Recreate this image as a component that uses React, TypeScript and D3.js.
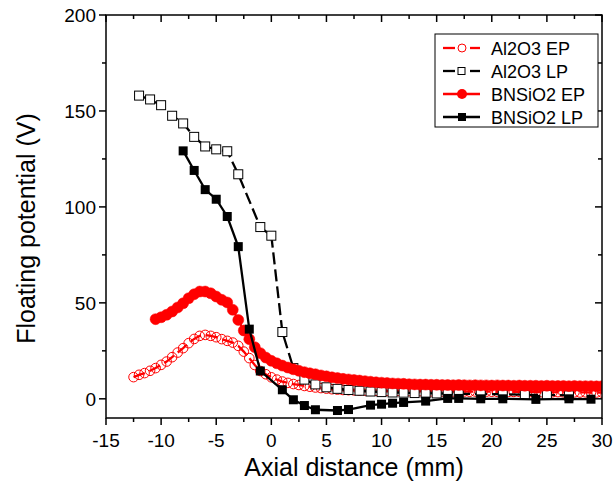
import React from 'react';
import * as d3 from 'd3';

const W = 613;
const H = 485;
const PLOT = { left: 106, right: 602, top: 15, bottom: 418 };

const xTickValues = [-15, -10, -5, 0, 5, 10, 15, 20, 25, 30];
const xMinorTicks = [-12.5, -7.5, -2.5, 2.5, 7.5, 12.5, 17.5, 22.5, 27.5];
const yTickValues = [0, 50, 100, 150, 200];
const yMinorTicks = [25, 75, 125, 175];

const seriesNames = ['Al2O3 EP', 'Al2O3 LP', 'BNSiO2 EP', 'BNSiO2 LP'];

// Al2O3 EP: sampled every 0.5 mm starting at -12.5 mm
const al2o3EPStart = -12.5;
const al2o3EPStep = 0.5;
const al2o3EP = [
  11.3, 12.5, 13.4, 14.6, 16.0, 17.7, 19.4, 21.7, 24.1, 26.4, 29.0, 31.2, 32.8, 33.3, 32.8, 32.1, 31.1, 30.2, 29.3, 27.6, 24.6, 21.2, 17.6, 14.5, 12.8, 11.2, 10.0,
  9.0, 8.3, 7.7, 7.2, 6.7, 6.3, 5.9, 5.6, 5.3, 5.0, 4.8, 4.6, 4.5, 4.4, 4.3,
  4.3, 4.2, 4.2, 4.1, 4.1, 4.0, 4.1, 4.0, 4.0, 3.9,
  4.0, 3.9, 3.9, 3.9, 3.8, 3.9, 3.8, 3.8, 3.8, 3.7,
  3.8, 3.7, 3.7, 3.7, 3.6, 3.7, 3.6, 3.6, 3.6, 3.5,
  3.6, 3.5, 3.5, 3.5, 3.4, 3.5, 3.4, 3.4, 3.4, 3.3,
  3.4, 3.3, 3.3, 3.3,
];

// BNSiO2 EP: sampled every 0.5 mm starting at -10.5 mm
const bnsio2EPStart = -10.5;
const bnsio2EPStep = 0.5;
const bnsio2EP = [
  41.5, 42.5, 43.8, 45.5, 47.6, 49.8, 52.4, 54.5, 55.9, 55.9, 55.0, 53.3, 51.6, 50.2, 46.4, 41.1, 35.6, 31.1, 26.9,
  23.8, 21.5, 19.8, 18.5, 17.3, 16.3, 15.4, 14.6, 13.9, 13.3, 12.8, 12.2, 11.7, 11.2, 10.8, 10.4, 10.1, 9.8, 9.5, 9.2, 8.9, 8.6, 8.4, 8.2, 8.0, 7.9, 7.8,
  7.6, 7.5, 7.4, 7.4, 7.3, 7.3, 7.2, 7.2, 7.1, 7.2,
  7.1, 7.0, 7.1, 7.0, 7.0, 6.9, 7.0, 6.9, 6.9, 6.8,
  6.9, 6.8, 6.8, 6.8, 6.7, 6.8, 6.7, 6.7, 6.7, 6.6,
  6.7, 6.6, 6.6, 6.6, 6.5, 6.6,
];

const al2o3LPx = [-12, -11, -10, -9, -8, -7, -6, -5, -4, -3, -1, 0, 1, 2, 3, 4, 5, 6, 7, 8, 9, 10, 11, 12, 13, 14, 15, 16, 17, 19, 21, 23, 25, 27];
const al2o3LPy = [158, 156, 153, 147.5, 143.5, 136.5, 131.5, 130, 129, 117, 89.5, 85, 34.8, 16, 10, 7.5, 6, 5.2, 4.6, 4.2, 3.8, 3.5, 3.3, 3.2, 3.0, 2.9, 2.8, 2.7, 2.6, 2.5, 2.4, 2.1, 2.0, 1.8];

const bnsio2LPx = [-8, -7, -6, -5, -4, -3, -2, -1, 1, 2, 3, 4, 6, 7, 9, 10, 11, 12, 14, 16, 17, 19, 21, 24, 27, 29];
const bnsio2LPy = [129.2, 119, 109, 104, 95, 79.3, 36.3, 14.5, 4.7, -0.5, -3.5, -5.7, -6.1, -5.6, -3.3, -2.8, -2.3, -1.9, -1.2, 0.2, 0.2, 0, 0, -0.3, 0, -0.2];

type Pt = [number, number];

const FONT = '"Liberation Sans", Arial, Helvetica, sans-serif';
const RED = '#ff0000';

export default function App() {
  const x = d3.scaleLinear().domain([-15, 30]).range([PLOT.left, PLOT.right]);
  const y = d3.scaleLinear().domain([-10, 200]).range([PLOT.bottom, PLOT.top]);
  const line = d3.line<Pt>().x((d) => x(d[0])).y((d) => y(d[1]));

  const al2o3EPPts: Pt[] = al2o3EP.map((v, i) => [al2o3EPStart + i * al2o3EPStep, v]);
  const bnsio2EPPts: Pt[] = bnsio2EP.map((v, i) => [bnsio2EPStart + i * bnsio2EPStep, v]);
  const al2o3LPPts: Pt[] = al2o3LPx.map((v, i) => [v, al2o3LPy[i]]);
  const bnsio2LPPts: Pt[] = bnsio2LPx.map((v, i) => [v, bnsio2LPy[i]]);

  const SQ = 9;
  const LW = 2.3;
  const legendX = 435;
  const legendY = 34;
  const rowY = (i: number) => legendY + 14 + i * 23;

  return (
    <svg width={W} height={H} style={{ position: 'absolute', left: 0, top: 0, background: '#fff' }} fontFamily={FONT}>
      <rect x={0} y={0} width={W} height={H} fill="#fff" />
      <defs>
        <clipPath id="plotclip">
          <rect x={PLOT.left} y={PLOT.top} width={PLOT.right - PLOT.left} height={PLOT.bottom - PLOT.top} />
        </clipPath>
      </defs>

      <g clipPath="url(#plotclip)">
        {/* Al2O3 EP */}
        <path d={line(al2o3EPPts) || ''} fill="none" stroke={RED} strokeWidth={LW} strokeDasharray="12,5" />
        {al2o3EPPts.map((d, i) => (
          <circle key={'a' + i} cx={x(d[0])} cy={y(d[1])} r={4.8} fill="none" stroke={RED} strokeWidth={1} />
        ))}
        {/* Al2O3 LP */}
        <path d={line(al2o3LPPts) || ''} fill="none" stroke="#000" strokeWidth={LW} strokeDasharray="12,5" />
        {al2o3LPPts.map((d, i) => (
          <rect key={'b' + i} x={x(d[0]) - SQ / 2} y={y(d[1]) - SQ / 2} width={SQ} height={SQ} fill="#fff" stroke="#000" strokeWidth={1} />
        ))}
        {/* BNSiO2 EP */}
        <path d={line(bnsio2EPPts) || ''} fill="none" stroke={RED} strokeWidth={LW} />
        {bnsio2EPPts.map((d, i) => (
          <circle key={'c' + i} cx={x(d[0])} cy={y(d[1])} r={5.5} fill={RED} stroke={RED} strokeWidth={0.5} />
        ))}
        {/* BNSiO2 LP */}
        <path d={line(bnsio2LPPts) || ''} fill="none" stroke="#000" strokeWidth={LW} />
        {bnsio2LPPts.map((d, i) => (
          <rect key={'d' + i} x={x(d[0]) - SQ / 2} y={y(d[1]) - SQ / 2} width={SQ} height={SQ} fill="#000" />
        ))}
      </g>

      {/* Frame */}
      <rect x={PLOT.left} y={PLOT.top} width={PLOT.right - PLOT.left} height={PLOT.bottom - PLOT.top} fill="none" stroke="#000" strokeWidth={1.5} />

      {/* X ticks bottom (outward) and top (inward) */}
      {xTickValues.map((t) => (
        <g key={'xt' + t}>
          <line x1={x(t)} x2={x(t)} y1={PLOT.bottom} y2={PLOT.bottom + 7} stroke="#000" strokeWidth={1.5} />
          <line x1={x(t)} x2={x(t)} y1={PLOT.top} y2={PLOT.top + 7} stroke="#000" strokeWidth={1.5} />
          <text x={x(t)} y={447} textAnchor="middle" fontSize={19} fill="#000">{t}</text>
        </g>
      ))}
      {xMinorTicks.map((t) => (
        <g key={'xm' + t}>
          <line x1={x(t)} x2={x(t)} y1={PLOT.bottom} y2={PLOT.bottom + 4} stroke="#000" strokeWidth={1.5} />
          <line x1={x(t)} x2={x(t)} y1={PLOT.top} y2={PLOT.top + 4} stroke="#000" strokeWidth={1.5} />
        </g>
      ))}

      {/* Y ticks left (outward) and right (inward) */}
      {yTickValues.map((t) => (
        <g key={'yt' + t}>
          <line x1={PLOT.left - 7} x2={PLOT.left} y1={y(t)} y2={y(t)} stroke="#000" strokeWidth={1.5} />
          <line x1={PLOT.right - 7} x2={PLOT.right} y1={y(t)} y2={y(t)} stroke="#000" strokeWidth={1.5} />
          <text x={96} y={y(t) + 7} textAnchor="end" fontSize={19} fill="#000">{t}</text>
        </g>
      ))}
      {yMinorTicks.map((t) => (
        <g key={'ym' + t}>
          <line x1={PLOT.left - 4} x2={PLOT.left} y1={y(t)} y2={y(t)} stroke="#000" strokeWidth={1.5} />
          <line x1={PLOT.right - 4} x2={PLOT.right} y1={y(t)} y2={y(t)} stroke="#000" strokeWidth={1.5} />
        </g>
      ))}

      {/* Axis titles */}
      <text x={(PLOT.left + PLOT.right) / 2} y={476} textAnchor="middle" fontSize={25} fill="#000">Axial distance (mm)</text>
      <text transform={`translate(35, ${(PLOT.top + PLOT.bottom) / 2 + 12}) rotate(-90)`} textAnchor="middle" fontSize={25} fill="#000">Floating potential (V)</text>

      {/* Legend */}
      <rect x={legendX} y={legendY} width={163} height={93} fill="#fff" stroke="#000" strokeWidth={1} />
      {seriesNames.map((name, i) => {
        const cy = rowY(i);
        const color = i % 2 === 0 ? RED : '#000';
        const dashed = i < 2;
        return (
          <g key={'lg' + i}>
            {dashed ? (
              <g>
                <line x1={443} x2={455} y1={cy} y2={cy} stroke={color} strokeWidth={LW} />
                <line x1={470} x2={480} y1={cy} y2={cy} stroke={color} strokeWidth={LW} />
              </g>
            ) : (
              <line x1={443} x2={480} y1={cy} y2={cy} stroke={color} strokeWidth={LW} />
            )}
            {i === 0 && <circle cx={462} cy={cy} r={4} fill="#fff" stroke={RED} strokeWidth={1} />}
            {i === 1 && <rect x={458} y={cy - 3.5} width={7} height={7} fill="#fff" stroke="#000" strokeWidth={1} />}
            {i === 2 && <circle cx={462} cy={cy} r={5} fill={RED} />}
            {i === 3 && <rect x={458} y={cy - 4} width={8} height={8} fill="#000" />}
            <text x={491} y={cy + 6.5} fontSize={18} fill="#000">{name}</text>
          </g>
        );
      })}
    </svg>
  );
}
